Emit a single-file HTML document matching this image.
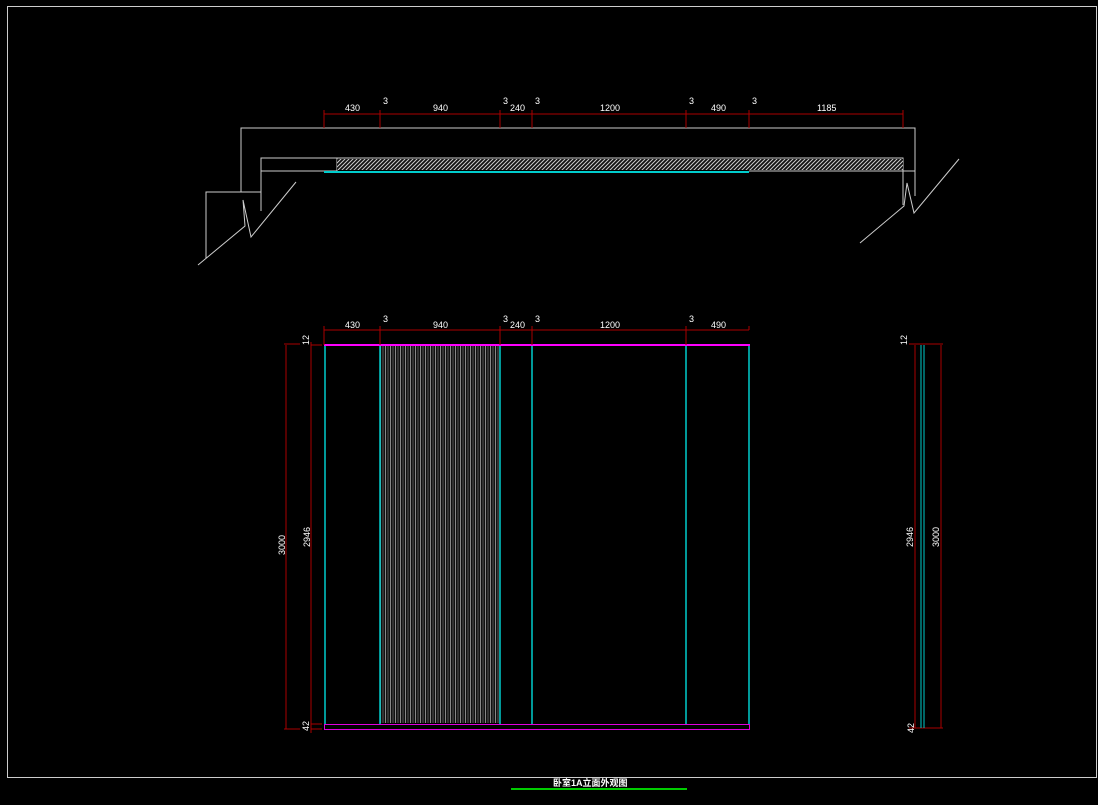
<!DOCTYPE html>
<html><head><meta charset="utf-8"><style>
html,body{margin:0;padding:0;background:#000;}
svg{display:block;}
text{font-family:"Liberation Sans","Noto Sans CJK SC",sans-serif;fill:#fff;font-size:9px;}
</style></head><body>
<svg width="1098" height="805" viewBox="0 0 1098 805" xmlns="http://www.w3.org/2000/svg">
<defs>
<pattern id="h" width="4" height="4" patternUnits="userSpaceOnUse">
<rect width="4" height="4" fill="#111"/>
<path d="M0 4 L4 0 M-1 1 L1 -1 M3 5 L5 3" stroke="#ccc" stroke-width="1"/>
</pattern>
<pattern id="v" width="5" height="10" patternUnits="userSpaceOnUse">
<rect width="5" height="10" fill="#111"/>
<rect x="0" width="1" height="10" fill="#888"/>
<rect x="2.5" width="1" height="10" fill="#555"/>
</pattern>
</defs>
<rect x="7.5" y="6.5" width="1089" height="771" fill="none" stroke="#ccc" stroke-width="1"/>

<g stroke="#ccc" stroke-width="1" fill="none">
<path d="M241 192 V128 H915 V196"/>
<path d="M261 211 V158 H903 V205"/>
<path d="M261 171 H337 V158"/>
<path d="M206 258 V192 H261"/>
<path d="M198 265 L245 226 L243 200 L251 237 L296 182"/>
<path d="M749 171 H915"/>
<path d="M860 243 L904 206 L907 183 L914 213 L959 159"/>
</g>
<rect x="337" y="159" width="566" height="11" fill="url(#h)"/>
<line x1="324" y1="172" x2="749" y2="172" stroke="#0cc" stroke-width="2"/>
<g stroke="#a00" stroke-width="1">
<line x1="324" y1="114" x2="903" y2="114"/>
<line x1="324" y1="110" x2="324" y2="128"/><line x1="380" y1="110" x2="380" y2="128"/>
<line x1="500" y1="110" x2="500" y2="128"/><line x1="532" y1="110" x2="532" y2="128"/>
<line x1="686" y1="110" x2="686" y2="128"/><line x1="749" y1="110" x2="749" y2="128"/>
<line x1="903" y1="110" x2="903" y2="128"/>
</g>
<text x="345" y="111">430</text><text x="433" y="111">940</text><text x="510" y="111">240</text>
<text x="600" y="111">1200</text><text x="711" y="111">490</text><text x="817" y="111">1185</text>
<text x="383" y="104">3</text><text x="503" y="104">3</text><text x="535" y="104">3</text><text x="689" y="104">3</text><text x="752" y="104">3</text>

<rect x="380" y="346" width="120" height="377" fill="url(#v)"/>
<g stroke="#0cc" stroke-width="1.5">
<line x1="325" y1="345" x2="325" y2="724"/><line x1="380" y1="345" x2="380" y2="724"/>
<line x1="500" y1="345" x2="500" y2="724"/><line x1="532" y1="345" x2="532" y2="724"/>
<line x1="686" y1="345" x2="686" y2="724"/><line x1="749" y1="345" x2="749" y2="724"/>
</g>
<line x1="324" y1="345" x2="750" y2="345" stroke="#f0f" stroke-width="2"/>
<rect x="324.5" y="724.5" width="425" height="5" fill="none" stroke="#d0d" stroke-width="1"/>
<g stroke="#a00" stroke-width="1">
<line x1="324" y1="330" x2="749" y2="330"/>
<line x1="324" y1="326" x2="324" y2="345"/><line x1="380" y1="326" x2="380" y2="345"/>
<line x1="500" y1="326" x2="500" y2="345"/><line x1="532" y1="326" x2="532" y2="345"/>
<line x1="686" y1="326" x2="686" y2="345"/><line x1="749" y1="326" x2="749" y2="330"/>
<line x1="286" y1="345" x2="286" y2="729"/><line x1="311" y1="342" x2="311" y2="733"/>
<line x1="284" y1="344" x2="300" y2="344"/><line x1="311" y1="345" x2="322" y2="345"/>
<line x1="284" y1="729" x2="300" y2="729"/><line x1="311" y1="724" x2="322" y2="724"/><line x1="311" y1="729" x2="322" y2="729"/>
<line x1="915" y1="345" x2="915" y2="728"/><line x1="941" y1="345" x2="941" y2="728"/>
<line x1="909" y1="344" x2="943" y2="344"/><line x1="909" y1="728" x2="943" y2="728"/>
</g>
<text x="345" y="328">430</text><text x="433" y="328">940</text><text x="510" y="328">240</text>
<text x="600" y="328">1200</text><text x="711" y="328">490</text>
<text x="383" y="322">3</text><text x="503" y="322">3</text><text x="535" y="322">3</text><text x="689" y="322">3</text>
<text transform="translate(285,545) rotate(-90)" text-anchor="middle">3000</text>
<text transform="translate(310,537) rotate(-90)" text-anchor="middle">2946</text>
<text transform="translate(309,345) rotate(-90)" font-size="8">12</text>
<text transform="translate(309,731) rotate(-90)" font-size="8">42</text>
<line x1="921" y1="345" x2="921" y2="728" stroke="#0cc" stroke-width="1"/>
<line x1="924" y1="345" x2="924" y2="728" stroke="#0cc" stroke-width="1"/>
<text transform="translate(913,537) rotate(-90)" text-anchor="middle">2946</text>
<text transform="translate(939,537) rotate(-90)" text-anchor="middle">3000</text>
<text transform="translate(907,345) rotate(-90)" font-size="8">12</text>
<text transform="translate(914,733) rotate(-90)" font-size="8">42</text>

<text x="553" y="786" font-size="12" font-weight="bold">卧室1A立面外观图</text>
<line x1="511" y1="789" x2="687" y2="789" stroke="#0c0" stroke-width="2"/>
</svg>
</body></html>
